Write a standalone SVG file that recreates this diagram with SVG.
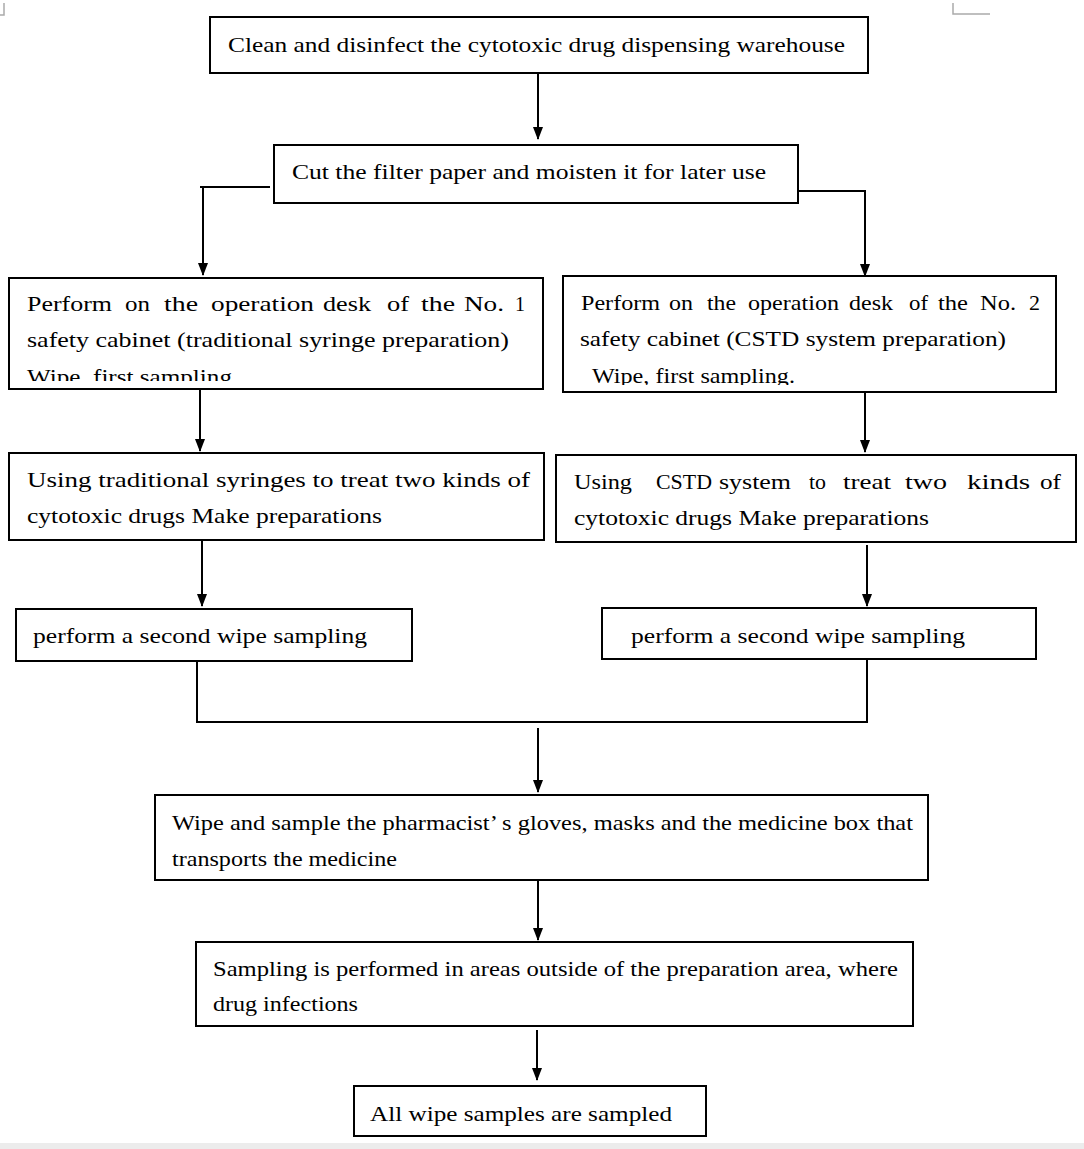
<svg xmlns="http://www.w3.org/2000/svg" width="1084" height="1149" viewBox="0 0 1084 1149">
<style>
.box{fill:#fff;stroke:#000;stroke-width:2}
.t{font-family:"Liberation Serif","DejaVu Serif",serif;font-size:22px;fill:#000}
.c{fill:none;stroke:#000;stroke-width:2}
</style>
<defs>
<marker id="ah" markerUnits="userSpaceOnUse" markerWidth="14" markerHeight="14" viewBox="0 0 14 14" refX="12" refY="7" orient="auto">
<path d="M0,2 L13,7 L0,12 Z" fill="#000"/>
</marker>
<clipPath id="clipC"><rect x="10" y="279" width="532" height="102"/></clipPath>
<clipPath id="clipD"><rect x="564" y="277" width="491" height="108"/></clipPath>
</defs>
<rect x="0" y="0" width="1084" height="1149" fill="#fff"/>
<rect x="0" y="1143" width="1084" height="6" fill="#ececec"/>
<g id="cornermarks" stroke="#aaa" stroke-width="1.5" fill="none">
<path d="M4,3 L4,15 L0,15"/>
<path d="M953,3 L953,14 L990,14"/>
</g>
<g id="connectors">
<line class="c" x1="538" y1="73" x2="538" y2="139" marker-end="url(#ah)"/>
<polyline class="c" points="270,187 200,187"/>
<line class="c" x1="203" y1="187" x2="203" y2="275" marker-end="url(#ah)"/>
<polyline class="c" points="798,191 865,191 865,276" marker-end="url(#ah)"/>
<line class="c" x1="200" y1="389" x2="200" y2="451" marker-end="url(#ah)"/>
<line class="c" x1="865" y1="392" x2="865" y2="452" marker-end="url(#ah)"/>
<line class="c" x1="202" y1="540" x2="202" y2="606" marker-end="url(#ah)"/>
<line class="c" x1="867" y1="545" x2="867" y2="606" marker-end="url(#ah)"/>
<polyline class="c" points="197,661 197,722 867,722 867,659"/>
<line class="c" x1="538" y1="728" x2="538" y2="792" marker-end="url(#ah)"/>
<line class="c" x1="538" y1="880" x2="538" y2="940" marker-end="url(#ah)"/>
<line class="c" x1="537" y1="1030" x2="537" y2="1080" marker-end="url(#ah)"/>
</g>
<g id="n1">
<rect class="box" x="210" y="17" width="658" height="56"/>
<text class="t" x="228" y="52" textLength="617" lengthAdjust="spacingAndGlyphs">Clean and disinfect the cytotoxic drug dispensing warehouse</text>
</g>
<g id="n2">
<rect class="box" x="274" y="145" width="524" height="58"/>
<text class="t" x="292" y="179" textLength="474" lengthAdjust="spacingAndGlyphs">Cut the filter paper and moisten it for later use</text>
</g>
<g id="n3">
<rect class="box" x="9" y="278" width="534" height="111"/>
<g clip-path="url(#clipC)">
<text class="t" y="311"><tspan x="27" textLength="85" lengthAdjust="spacingAndGlyphs">Perform</tspan> <tspan x="125" textLength="25" lengthAdjust="spacingAndGlyphs">on</tspan> <tspan x="164" textLength="34" lengthAdjust="spacingAndGlyphs">the</tspan> <tspan x="211" textLength="103" lengthAdjust="spacingAndGlyphs">operation</tspan> <tspan x="323" textLength="48" lengthAdjust="spacingAndGlyphs">desk</tspan> <tspan x="387" textLength="22" lengthAdjust="spacingAndGlyphs">of</tspan> <tspan x="421" textLength="34" lengthAdjust="spacingAndGlyphs">the</tspan> <tspan x="464" textLength="40" lengthAdjust="spacingAndGlyphs">No.</tspan> <tspan x="515" textLength="10" lengthAdjust="spacingAndGlyphs">1</tspan></text>
<text class="t" x="27" y="347" textLength="482" lengthAdjust="spacingAndGlyphs">safety cabinet (traditional syringe preparation)</text>
<text class="t" x="27" y="384" textLength="205" lengthAdjust="spacingAndGlyphs">Wipe, first sampling</text>
</g>
</g>
<g id="n4">
<rect class="box" x="563" y="276" width="493" height="116"/>
<g clip-path="url(#clipD)">
<text class="t" y="310"><tspan x="581" textLength="79" lengthAdjust="spacingAndGlyphs">Perform</tspan> <tspan x="669" textLength="24" lengthAdjust="spacingAndGlyphs">on</tspan> <tspan x="707" textLength="29" lengthAdjust="spacingAndGlyphs">the</tspan> <tspan x="748" textLength="91" lengthAdjust="spacingAndGlyphs">operation</tspan> <tspan x="849" textLength="44" lengthAdjust="spacingAndGlyphs">desk</tspan> <tspan x="909" textLength="19" lengthAdjust="spacingAndGlyphs">of</tspan> <tspan x="938" textLength="30" lengthAdjust="spacingAndGlyphs">the</tspan> <tspan x="980" textLength="36" lengthAdjust="spacingAndGlyphs">No.</tspan> <tspan x="1029" textLength="11" lengthAdjust="spacingAndGlyphs">2</tspan></text>
<text class="t" x="580" y="346" textLength="426" lengthAdjust="spacingAndGlyphs">safety cabinet (CSTD system preparation)</text>
<text class="t" x="592" y="383" textLength="203" lengthAdjust="spacingAndGlyphs">Wipe, first sampling.</text>
</g>
</g>
<g id="n5">
<rect class="box" x="9" y="453" width="535" height="87"/>
<text class="t" x="27" y="487" textLength="503" lengthAdjust="spacingAndGlyphs">Using traditional syringes to treat two kinds of</text>
<text class="t" x="27" y="523" textLength="355" lengthAdjust="spacingAndGlyphs">cytotoxic drugs Make preparations</text>
</g>
<g id="n6">
<rect class="box" x="556" y="455" width="520" height="87"/>
<text class="t" y="489"><tspan x="574" textLength="58" lengthAdjust="spacingAndGlyphs">Using</tspan> <tspan x="656" textLength="56" lengthAdjust="spacingAndGlyphs">CSTD</tspan> <tspan x="719" textLength="72" lengthAdjust="spacingAndGlyphs">system</tspan> <tspan x="809" textLength="17" lengthAdjust="spacingAndGlyphs">to</tspan> <tspan x="843" textLength="48" lengthAdjust="spacingAndGlyphs">treat</tspan> <tspan x="905" textLength="42" lengthAdjust="spacingAndGlyphs">two</tspan> <tspan x="967" textLength="63" lengthAdjust="spacingAndGlyphs">kinds</tspan> <tspan x="1040" textLength="21" lengthAdjust="spacingAndGlyphs">of</tspan></text>
<text class="t" x="574" y="525" textLength="355" lengthAdjust="spacingAndGlyphs">cytotoxic drugs Make preparations</text>
</g>
<g id="n7">
<rect class="box" x="16" y="609" width="396" height="52"/>
<text class="t" x="33" y="643" textLength="334" lengthAdjust="spacingAndGlyphs">perform a second wipe sampling</text>
</g>
<g id="n8">
<rect class="box" x="602" y="608" width="434" height="51"/>
<text class="t" x="631" y="643" textLength="334" lengthAdjust="spacingAndGlyphs">perform a second wipe sampling</text>
</g>
<g id="n9">
<rect class="box" x="155" y="795" width="773" height="85"/>
<text class="t" x="172" y="830" textLength="741" lengthAdjust="spacingAndGlyphs">Wipe and sample the pharmacist’ s gloves, masks and the medicine box that</text>
<text class="t" x="172" y="866" textLength="225" lengthAdjust="spacingAndGlyphs">transports the medicine</text>
</g>
<g id="n10">
<rect class="box" x="196" y="942" width="717" height="84"/>
<text class="t" x="213" y="976" textLength="685" lengthAdjust="spacingAndGlyphs">Sampling is performed in areas outside of the preparation area, where</text>
<text class="t" x="213" y="1011" textLength="145" lengthAdjust="spacingAndGlyphs">drug infections</text>
</g>
<g id="n11">
<rect class="box" x="354" y="1086" width="352" height="50"/>
<text class="t" x="370" y="1121" textLength="302" lengthAdjust="spacingAndGlyphs">All wipe samples are sampled</text>
</g>
</svg>
